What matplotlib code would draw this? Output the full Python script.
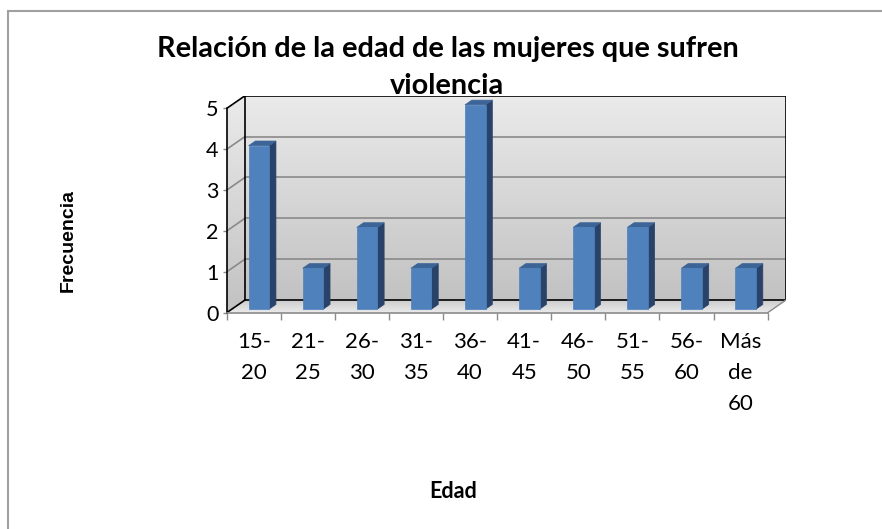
import numpy as np
import matplotlib.pyplot as plt
from matplotlib.patches import Polygon, Rectangle

# data
categorias = ['15-\n20', '21-\n25', '26-\n30', '31-\n35', '36-\n40',
              '41-\n45', '46-\n50', '51-\n55', '56-\n60', 'Más\nde\n60']
frecuencia = [4, 1, 2, 1, 5, 1, 2, 2, 1, 1]
yticks = [0, 1, 2, 3, 4, 5]

# fake 3d depth offset (data units)
DX, DY = 0.339, 0.311
D0, D1 = 0.28, 0.65
BW = 0.38
n = len(categorias)
ymax = yticks[-1]

def p(x, y, d):
    return (x + d * DX, y + d * DY)

fig = plt.figure(figsize=(8.82, 5.29), dpi=100)
W, H = 882, 529
ax = fig.add_axes([226.7 / W, (H - 312.7) / H, 559.3 / W, 217 / H])
ax.set_xlim(0, n + DX)
ax.set_ylim(0, ymax + DY)

# walls with gradient
grad = np.linspace(0, 1, 256).reshape(-1, 1)
def gradient_poly(pts, top, bottom, z):
    poly = Polygon(pts, closed=True, facecolor='none', edgecolor='none', zorder=z)
    ax.add_patch(poly)
    xs = [q[0] for q in pts]; ys = [q[1] for q in pts]
    cols = np.array(bottom) + grad * (np.array(top) - np.array(bottom))
    img = ax.imshow(cols.reshape(256, 1, 3), extent=[min(xs), max(xs), min(ys), max(ys)],
                    origin='lower', aspect='auto', zorder=z, interpolation='bilinear')
    img.set_clip_path(poly)

back = [p(0, 0, 1), p(n, 0, 1), p(n, ymax, 1), p(0, ymax, 1)]
left = [p(0, 0, 0), p(0, 0, 1), p(0, ymax, 1), p(0, ymax, 0)]
floor = [p(0, 0, 0), p(n, 0, 0), p(n, 0, 1), p(0, 0, 1)]
gradient_poly(back, (0.92, 0.92, 0.92), (0.76, 0.76, 0.76), 1)
gradient_poly(left, (0.92, 0.92, 0.92), (0.76, 0.76, 0.76), 1)
gradient_poly(floor, (0.80, 0.80, 0.80), (0.92, 0.92, 0.92), 1)

# gridlines
for k in yticks[1:-1]:
    ax.plot([p(0, k, 1)[0], p(n, k, 1)[0]], [p(0, k, 1)[1], p(n, k, 1)[1]],
            color='#8a8a8a', lw=1.2, zorder=2)
    ax.plot([p(0, k, 0)[0], p(0, k, 1)[0]], [p(0, k, 0)[1], p(0, k, 1)[1]],
            color='#8a8a8a', lw=1.2, zorder=2)

# outlines
edges_black = [(p(0, 0, 1), p(n, 0, 1)), (p(0, 0, 1), p(0, ymax, 1)),
               (p(0, ymax, 1), p(n, ymax, 1)), (p(n, 0, 1), p(n, ymax, 1)),
               (p(0, ymax, 0), p(0, ymax, 1)), (p(0, 0, 0), p(0, 0, 1))]
for a, b in edges_black:
    ax.plot([a[0], b[0]], [a[1], b[1]], color='black', lw=1.2, zorder=3)
a, b = p(n, 0, 0), p(n, 0, 1)
ax.plot([a[0], b[0]], [a[1], b[1]], color='#8a8a8a', lw=1.0, zorder=3)

# bars
front_c, side_c, top_c = '#4f81bd', '#29426a', '#3c6497'
for i, v in enumerate(frecuencia):
    x0 = i + 0.5 - BW / 2
    x1 = i + 0.5 + BW / 2
    front = [p(x0, 0, D0), p(x1, 0, D0), p(x1, v, D0), p(x0, v, D0)]
    side = [p(x1, 0, D0), p(x1, 0, D1), p(x1, v, D1), p(x1, v, D0)]
    top = [p(x0, v, D0), p(x1, v, D0), p(x1, v, D1), p(x0, v, D1)]
    ax.add_patch(Polygon(side, closed=True, facecolor=side_c, edgecolor=side_c, lw=0.5, zorder=4))
    ax.add_patch(Polygon(top, closed=True, facecolor=top_c, edgecolor=top_c, lw=0.5, zorder=4))
    ax.add_patch(Polygon(front, closed=True, facecolor=front_c, edgecolor=front_c, lw=0.5, zorder=4))

# axes
for s in ['top', 'right']:
    ax.spines[s].set_visible(False)
ax.spines['left'].set_bounds(0, ymax)
ax.spines['left'].set_color('black')
ax.spines['left'].set_linewidth(1.2)
ax.spines['left'].set_zorder(5)
ax.spines['bottom'].set_bounds(0, n)
ax.spines['bottom'].set_color('#8a8a8a')
ax.spines['bottom'].set_linewidth(1.2)
ax.spines['bottom'].set_zorder(5)

ax.set_yticks(yticks)
ax.set_yticklabels([str(t) for t in yticks], family='Lato', fontsize=15.5)
ax.tick_params(axis='y', length=3, width=1, color='#8a8a8a', pad=3)
ax.set_xticks(np.arange(n + 1))
ax.set_xticklabels([])
ax.tick_params(axis='x', which='major', length=5, width=1, color='#8a8a8a')
ax.set_xticks(np.arange(n) + 0.5, minor=True)
ax.set_xticklabels(categorias, minor=True, family='Lato', fontsize=16, linespacing=1.68)
ax.tick_params(axis='x', which='minor', length=0, pad=14)
ax.patch.set_alpha(0)

# texts
fig.text(447.5 / W, 1 - 67.5 / H, 'Relación de la edad de las mujeres que sufren\nviolencia',
         ha='center', va='center', family='Lato', weight='bold', fontsize=20.8,
         linespacing=1.52, zorder=6)
fig.text(68 / W, 1 - 240 / H, 'Frecuencia', rotation=90, ha='center', va='center',
         family='Liberation Sans', weight='bold', fontsize=14)
fig.text(453 / W, 1 - 492 / H, 'Edad', ha='center', va='center',
         family='Lato', weight='bold', fontsize=15.5)

# chart frame
fig.patches.append(Rectangle((8 / W, -0.1), 1.2, 1 - 11 / H + 0.1, transform=fig.transFigure,
                             facecolor='none', edgecolor='#a0a0a0', lw=1.5))

fig.savefig('out.png', dpi=100)
